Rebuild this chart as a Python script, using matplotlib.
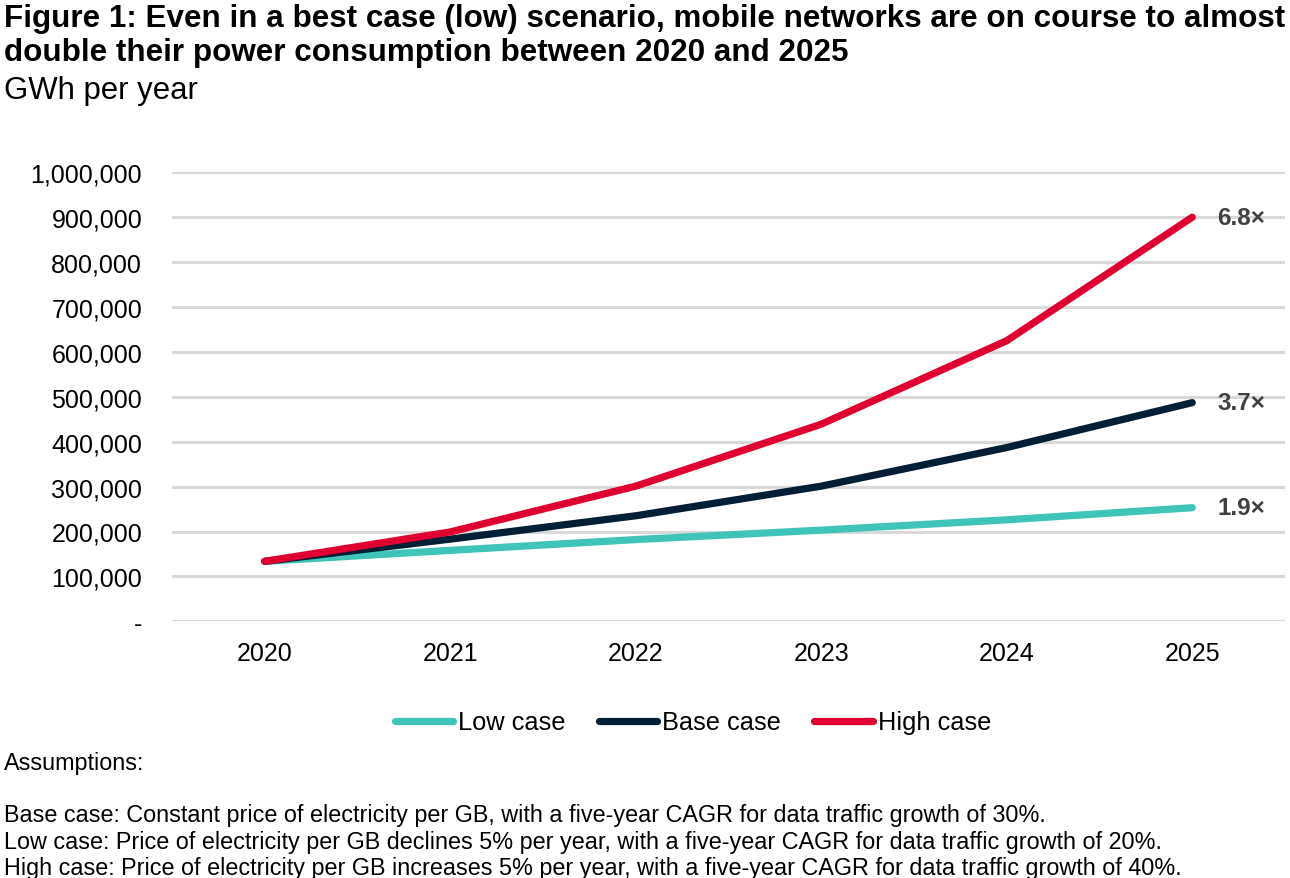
#!/usr/bin/env python3
"""Mobile network power consumption scenarios, 2020-2025 (GWh per year)."""

import matplotlib
matplotlib.use("Agg")
import matplotlib.pyplot as plt
from matplotlib.ticker import FuncFormatter

plt.rcParams["font.family"] = ["Liberation Sans", "DejaVu Sans"]

# ── data ──────────────────────────────────────────────────────────────────
YEARS = ["2020", "2021", "2022", "2023", "2024", "2025"]
LOW_CASE = [133600, 158000, 182000, 203000, 226000, 253000]
BASE_CASE = [133600, 183000, 235000, 301000, 387000, 487000]
HIGH_CASE = [133600, 199000, 301000, 439000, 625000, 900000]
END_LABELS = ["1.9×", "3.7×", "6.8×"]

SERIES_NAMES = ["Low case", "Base case", "High case"]
COLORS = ["#3EC4B8", "#001E34", "#DF002F"]

TITLE = ("Figure 1: Even in a best case (low) scenario, mobile networks are on course to almost\n"
         "double their power consumption between 2020 and 2025")
SUBTITLE = "GWh per year"
NOTES = ["Assumptions:",
         "",
         "Base case: Constant price of electricity per GB, with a five-year CAGR for data traffic growth of 30%.",
         "Low case: Price of electricity per GB declines 5% per year, with a five-year CAGR for data traffic growth of 20%.",
         "High case: Price of electricity per GB increases 5% per year, with a five-year CAGR for data traffic growth of 40%."]

W, H = 1290, 879


def fx(px):
    return px / W


def fy(py):
    return 1 - py / H


def ytick(v, _pos):
    return "-" if v == 0 else f"{v:,.0f}"


def main():
    fig = plt.figure(figsize=(W / 100, H / 100), dpi=100)
    fig.patch.set_facecolor("white")
    ax = fig.add_axes([fx(172), fy(622.3), fx(1285) - fx(172), fy(173.3) - fy(622.3)])

    xs = list(range(len(YEARS)))
    all_series = [LOW_CASE, BASE_CASE, HIGH_CASE]
    for vals, name, col in zip(all_series, SERIES_NAMES, COLORS):
        ax.plot(xs, vals, color=col, lw=5.2, label=name,
                solid_capstyle="round", solid_joinstyle="round", zorder=3)

    for vals, lab in zip(all_series, END_LABELS):
        ax.annotate(lab, xy=(xs[-1], vals[-1]), xytext=(25, 0),
                    textcoords="offset pixels", ha="left", va="center",
                    fontsize=17.5, fontweight="bold", color="#404040")

    ax.set_xlim(-0.5, len(YEARS) - 0.5)
    ax.set_ylim(0, 1000000)
    ax.set_yticks(range(0, 1000001, 100000))
    ax.yaxis.set_major_formatter(FuncFormatter(ytick))
    ax.set_xticks(xs)
    ax.set_xticklabels(YEARS)
    ax.tick_params(axis="both", length=0, labelsize=18, colors="black")
    ax.tick_params(axis="y", pad=21.5)
    ax.tick_params(axis="x", pad=14.5)
    ax.grid(axis="y", color="#D9D9D9", lw=2.2, zorder=0)
    for s in ax.spines.values():
        s.set_visible(False)

    fig.text(fx(4), fy(3.5), TITLE, ha="left", va="top", fontsize=22.6,
             fontweight="bold", linespacing=1.2)
    fig.text(fx(4), fy(99), SUBTITLE, ha="left", va="baseline", fontsize=22.4)

    fig.legend(loc="center", bbox_to_anchor=(fx(693), fy(723.5)), ncol=3,
               frameon=False, fontsize=18.3, handlelength=2.3,
               handletextpad=0.2, columnspacing=1.3)

    fig.text(fx(4), fy(752), "\n".join(NOTES), ha="left", va="top",
             fontsize=16.8, linespacing=1.18)

    fig.savefig("out.png", dpi=100)


if __name__ == "__main__":
    main()
